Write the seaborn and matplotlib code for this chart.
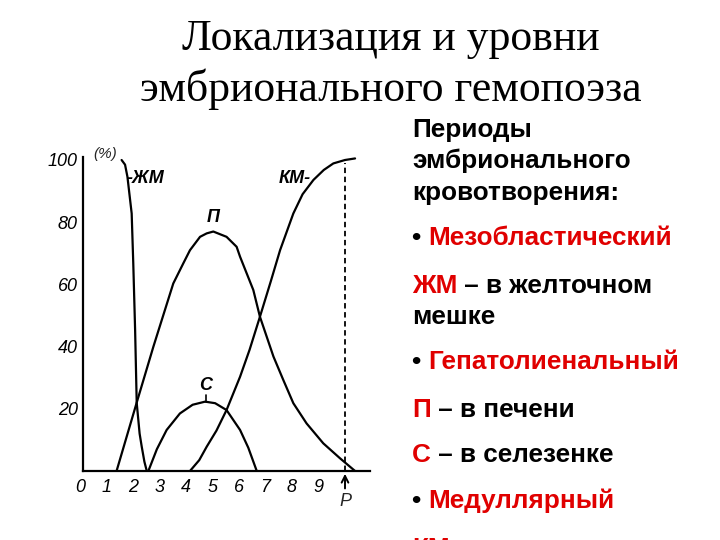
import numpy as np
import pandas as pd
import matplotlib
matplotlib.use("Agg")
import matplotlib.pyplot as plt
import seaborn as sns

# ---- data ----
zhm_x = [1.57, 1.70, 1.79, 1.95, 2.01, 2.08, 2.14, 2.25, 2.33, 2.43, 2.52]
zhm_y = [100, 98.5, 94.6, 82.8, 66.8, 45.3, 21.9, 12.0, 7.8, 3.0, 0]

p_x = [1.38, 2.14, 2.77, 3.52, 3.90, 4.15, 4.53, 4.78, 5.03, 5.53, 5.91, 6.04, 6.54, 6.79,
       7.30, 7.67, 8.05, 8.55, 9.18, 9.81, 10.38]
p_y = [0, 22, 40, 60.3, 66.8, 71, 75.3, 76.4, 77, 75.3, 72.1, 68.9, 58.2, 49.6,
       36.8, 29.3, 21.8, 15.3, 8.9, 4.1, 0]

s_x = [2.58, 2.90, 3.27, 3.77, 4.25, 4.72, 5.10, 5.53, 6.04, 6.35, 6.67]
s_y = [0, 7, 13.2, 18.5, 21.3, 22.3, 21.8, 19.6, 13.2, 7.5, 0]

km_x = [4.15, 4.50, 4.78, 5.15, 5.53, 6.04, 6.40, 6.79, 7.20, 7.55, 8.05, 8.40, 8.81,
        9.20, 9.56, 10.0, 10.38]
km_y = [0, 3.5, 7.8, 13, 19.6, 30.3, 39, 49.6, 61, 71, 82.8, 89, 93.6,
        96.8, 98.9, 100, 100.5]

x_ticks = [0, 1, 2, 3, 4, 5, 6, 7, 8, 9]
y_ticks = [20, 40, 60, 80, 100]
birth_x = 10

title_lines = ["Локализация и уровни", "эмбрионального гемопоэза"]

RED = "#E00000"

sns.set_theme(style="white")
plt.rcParams['font.family'] = ['Liberation Sans', 'DejaVu Sans']

fig = plt.figure(figsize=(7.2, 5.4), dpi=100)
fig.patch.set_facecolor("white")

# axes geometry in pixels: x data -> 80 + 26.5*x ; y data -> 471 - 3.11*y
x0, x1 = -0.2, 10.95
y0, y1 = 0, 102
left = (80 + 26.5 * x0) / 720
width = 26.5 * (x1 - x0) / 720
bottom = (540 - 471) / 540
height = 3.11 * (y1 - y0) / 540
ax = fig.add_axes([left, bottom, width, height])
ax.set_facecolor("white")

frames = []
for name, xs, ys in [("ЖМ", zhm_x, zhm_y), ("П", p_x, p_y), ("С", s_x, s_y), ("КМ", km_x, km_y)]:
    frames.append(pd.DataFrame({"x": xs, "y": ys, "curve": name}))
df = pd.concat(frames, ignore_index=True)

sns.lineplot(data=df, x="x", y="y", units="curve", estimator=None, sort=False,
             color="black", linewidth=1.6, ax=ax, legend=False)

ax.plot([birth_x, birth_x], [0, 99], color="black", linewidth=1.3, linestyle=(0, (3, 2)))

ax.set_xlim(x0, x1)
ax.set_ylim(y0, y1)
for sp in ["top", "right"]:
    ax.spines[sp].set_visible(False)
ax.spines["left"].set_position(("data", 0.12))
ax.spines["left"].set_bounds(0, 101)
ax.spines["bottom"].set_bounds(0.12, 10.95)
for sp in ["left", "bottom"]:
    ax.spines[sp].set_color("black")
    ax.spines[sp].set_linewidth(1.6)

ax.set_xticks(x_ticks)
ax.set_xticklabels([str(v) for v in x_ticks], fontstyle="italic", fontsize=13)
ax.set_yticks(y_ticks)
ax.set_yticklabels([str(v) for v in y_ticks], fontstyle="italic", fontsize=13)
ax.tick_params(axis="both", direction="out", length=2, width=1, colors="black", pad=2)
ax.tick_params(axis="x", pad=4)
ax.set_xlabel("")
ax.set_ylabel("")

# curve labels
lab = dict(fontsize=13, fontweight="bold", fontstyle="italic", color="black")
ax.text(0.5, 101.8, "(%)", fontsize=11, fontstyle="italic", ha="left", va="center")
ax.text(1.75, 94.2, "-ЖМ", ha="left", va="center", **lab)
ax.text(7.5, 94.2, "КМ-", ha="left", va="center", **lab)
ax.text(5.03, 81.5, "П", ha="center", va="center", **lab)
ax.text(4.74, 27.5, "С", ha="center", va="center", **lab)
ax.plot([4.74, 4.74], [22.3, 24.5], color="black", linewidth=1.2)

# birth marker
ax.annotate("", xy=(birth_x, 0), xytext=(birth_x, -6.5), xycoords="data",
            arrowprops=dict(arrowstyle="->", color="black", lw=1.4), annotation_clip=False)
ax.text(birth_x, -9.8, "P", fontsize=13, fontstyle="italic", ha="center", va="center", clip_on=False)

# overlay for slide text
ov = fig.add_axes([0, 0, 1, 1])
ov.set_xlim(0, 720)
ov.set_ylim(540, 0)
ov.axis("off")

ov.text(391, 39, title_lines[0], family=["Liberation Serif", "DejaVu Serif"], fontsize=31.5,
        ha="center", va="center", color="black")
ov.text(391, 89, title_lines[1], family=["Liberation Serif", "DejaVu Serif"], fontsize=31.5,
        ha="center", va="center", color="black")

fs = 18.8
tk = dict(fontsize=fs, fontweight="bold", va="center", ha="left")


def line(y, parts, x=412):
    t = ov.text(x, y, parts[0][0], color=parts[0][1], **tk)
    for txt, col in parts[1:]:
        t = ov.annotate(txt, xy=(1, 0), xycoords=t, va="bottom", ha="left",
                        color=col, fontsize=fs, fontweight="bold")
    return t


line(130, [("Периоды", "black")])
line(161, [("эмбрионального", "black")])
line(193, [("кровотворения:", "black")])
line(238, [("• ", "black"), ("Мезобластический", RED)])
line(286, [("ЖМ", RED), (" – в желточном", "black")])
line(317, [("мешке", "black")])
line(362, [("• ", "black"), ("Гепатолиенальный", RED)])
line(410, [("П", RED), (" – в печени", "black")])
line(455, [("С", RED), (" – в селезенке", "black")])
line(501, [("• ", "black"), ("Медуллярный", RED)])
line(549, [("КМ", RED), (" – в костном мозге", "black")])

fig.savefig("out.png", dpi=100, facecolor="white")
